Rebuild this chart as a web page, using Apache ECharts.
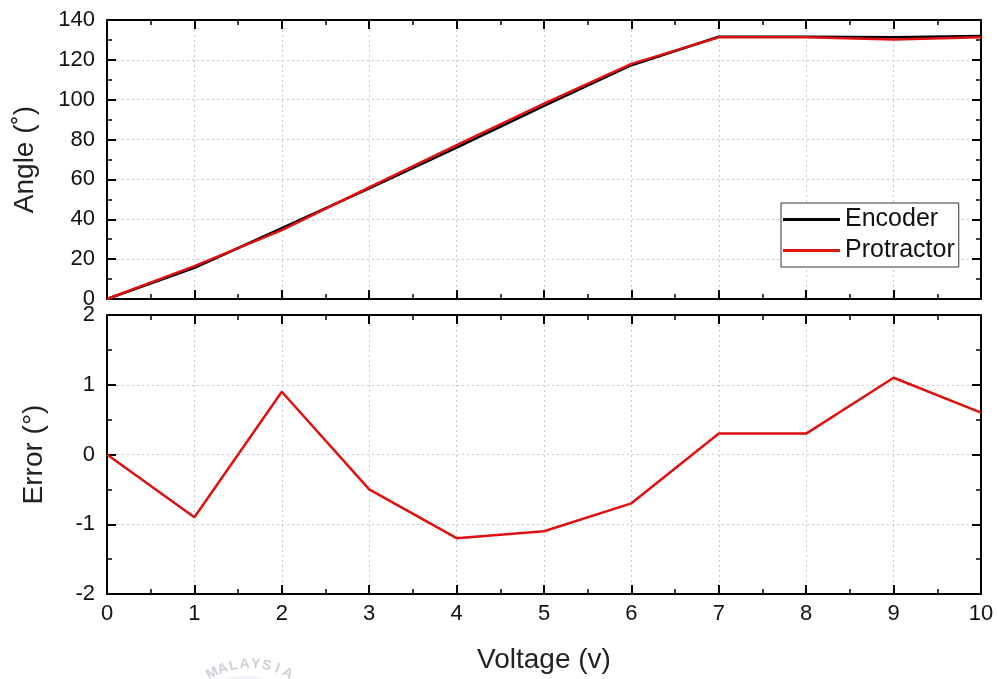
<!DOCTYPE html>
<html>
<head>
<meta charset="utf-8">
<script src="https://cdn.jsdelivr.net/npm/echarts@6/dist/echarts.min.js"></script>
<style>
  html, body { margin: 0; padding: 0; background: #fff; }
  #chart { width: 998px; height: 679px; }
</style>
</head>
<body>
<div id="chart"></div>
<script>
const voltage = [0, 1, 2, 3, 4, 5, 6, 7, 8, 9, 10]
const encoder = [0, 15.6, 35.5, 55.5, 76.0, 96.9, 117.3, 131.6, 131.6, 131.3, 132.0]
const protractor = [0, 16.5, 34.6, 56.0, 77.2, 98.0, 118.0, 131.3, 131.3, 130.2, 131.4]
const error = [0, -0.9, 0.9, -0.5, -1.2, -1.1, -0.7, 0.3, 0.3, 1.1, 0.6]

const font = 'Arial, "Liberation Sans", sans-serif'
const black = '#000'
const red = '#e01010'

function pairs(ys) {
  return voltage.map((x, i) => [x, ys[i]])
}

const splitDotted = { show: true, lineStyle: { color: '#c8c8c8', type: [2, 3], width: 1 } }

function xAxis(gridIndex, showLabels, mirror) {
  return {
    type: 'value', gridIndex, min: 0, max: 10, interval: 1,
    position: mirror ? 'top' : 'bottom',
    axisLine: { show: true, onZero: false, lineStyle: { color: black, width: 2 } },
    axisTick: { show: true, inside: true, length: 9, lineStyle: { color: black, width: 2 } },
    minorTick: { show: true, splitNumber: 2, length: 5, lineStyle: { color: black, width: 1.5 } },
    axisLabel: { show: showLabels, color: '#111', fontSize: 22, fontFamily: font, margin: 9 },
    splitLine: mirror ? { show: false } : splitDotted,
    name: showLabels ? 'Voltage (v)' : '',
    nameLocation: 'middle', nameGap: 52,
    nameTextStyle: { fontSize: 28, fontFamily: font, color: '#222' }
  }
}

function yAxis(gridIndex, min, max, interval, name, gap, mirror) {
  return {
    type: 'value', gridIndex, min, max, interval,
    position: mirror ? 'right' : 'left',
    axisLine: { show: true, onZero: false, lineStyle: { color: black, width: 2 } },
    axisTick: { show: true, inside: true, length: 9, lineStyle: { color: black, width: 2 } },
    minorTick: { show: true, splitNumber: 2, length: 5, lineStyle: { color: black, width: 1.5 } },
    axisLabel: { show: !mirror, color: '#111', fontSize: 22, fontFamily: font, margin: 12 },
    splitLine: mirror ? { show: false } : splitDotted,
    name: mirror ? '' : name,
    nameLocation: 'middle', nameGap: gap,
    nameTextStyle: { fontSize: 28, fontFamily: font, color: '#222' }
  }
}

// faint watermark seal under the x axis title
const stamp = 'MALAYSIA'
const stampGraphics = [
  { type: 'circle', shape: { cx: 245, cy: 748, r: 72 }, style: { fill: 'rgba(205,214,232,0.35)' }, z: -1 }
]
stamp.split('').forEach((ch, i) => {
  const a = (-28 + i * 8) * Math.PI / 180
  stampGraphics.push({
    type: 'text',
    x: 250 + 80 * Math.sin(a), y: 744 - 80 * Math.cos(a),
    rotation: -a,
    style: { text: ch, fill: '#cdd0d8', font: 'bold 14px ' + font, align: 'center', verticalAlign: 'middle' }
  })
})

const chart = echarts.init(document.getElementById('chart'))
chart.setOption({
  backgroundColor: '#fff',
  animation: false,
  grid: [
    { left: 107, right: 17, top: 20, height: 279 },
    { left: 107, right: 17, top: 315, height: 279 }
  ],
  xAxis: [
    xAxis(0, false, false),
    xAxis(0, false, true),
    xAxis(1, true, false),
    xAxis(1, false, true)
  ],
  yAxis: [
    yAxis(0, 0, 140, 20, 'Angle (˚)', 68, false),
    yAxis(0, 0, 140, 20, '', 0, true),
    yAxis(1, -2, 2, 1, 'Error (°)', 59, false),
    yAxis(1, -2, 2, 1, '', 0, true)
  ],
  legend: {
    left: 781, top: 203,
    orient: 'vertical',
    data: ['Encoder', 'Protractor'],
    itemWidth: 57, itemHeight: 3, itemGap: 6,
    icon: 'rect',
    padding: [4, 4, 4, 2],
    borderColor: '#333', borderWidth: 1, borderRadius: 0,
    backgroundColor: '#fff',
    textStyle: { fontSize: 25, fontFamily: font, color: '#111' }
  },
  graphic: stampGraphics,
  series: [
    {
      name: 'Encoder', type: 'line', xAxisIndex: 0, yAxisIndex: 0,
      data: pairs(encoder), showSymbol: false,
      lineStyle: { color: black, width: 2.5 }, itemStyle: { color: black }
    },
    {
      name: 'Protractor', type: 'line', xAxisIndex: 0, yAxisIndex: 0,
      data: pairs(protractor), showSymbol: false,
      lineStyle: { color: red, width: 2.5 }, itemStyle: { color: red }
    },
    {
      name: 'Error', type: 'line', xAxisIndex: 2, yAxisIndex: 2,
      data: pairs(error), showSymbol: false,
      lineStyle: { color: red, width: 2.5 }, itemStyle: { color: red }
    }
  ]
})
</script>
</body>
</html>
